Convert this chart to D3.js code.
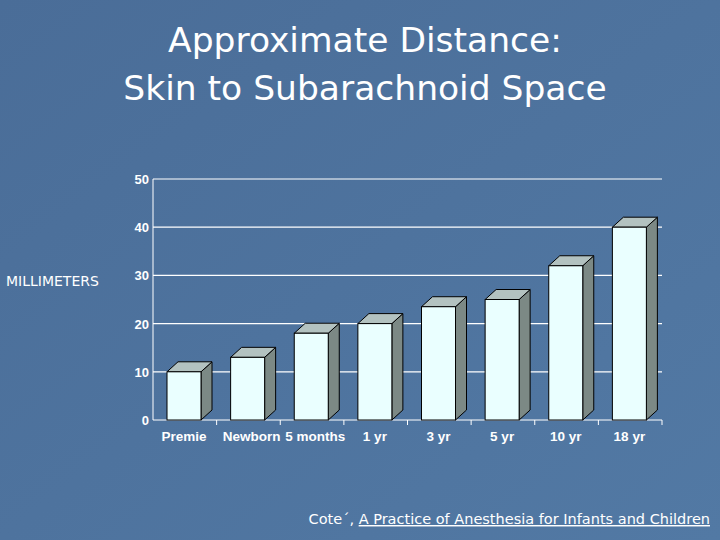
<!DOCTYPE html>
<html><head><meta charset="utf-8">
<script src="https://cdn.jsdelivr.net/npm/d3@7"></script>
<style>body{margin:0;background:#4d729d}svg{display:block}</style>
</head><body><svg id="c" width="720" height="540"></svg>
<script>
const categories=["Premie","Newborn","5 months","1 yr","3 yr","5 yr","10 yr","18 yr"];
const values=[10,13,18,20,23.5,25,32,40];
const yTicks=[0,10,20,30,40,50];
const svg=d3.select("#c");
const g0=svg.append("defs").append("linearGradient").attr("id","bg").attr("x1",0).attr("y1",0).attr("x2",1).attr("y2",1);
g0.append("stop").attr("offset",0).attr("stop-color","#4a6d98");
g0.append("stop").attr("offset",1).attr("stop-color","#5279a4");
svg.append("rect").attr("width",720).attr("height",540).attr("fill","url(#bg)");
const tf="'DejaVu Sans',sans-serif";
svg.append("text").attr("x",365).attr("y",52).attr("text-anchor","middle").attr("fill","#fff").attr("font-family",tf).attr("font-size",34.5).text("Approximate Distance:");
svg.append("text").attr("x",365).attr("y",100).attr("text-anchor","middle").attr("fill","#fff").attr("font-family",tf).attr("font-size",34.5).text("Skin to Subarachnoid Space");
const L=153,R=662,T=179,B=420;
const x=d3.scaleBand().domain(categories).range([L,R]);
const y=d3.scaleLinear().domain([0,50]).range([B,T]);
const g=svg.append("g");
g.selectAll(".grid").data(yTicks.slice(1)).join("line").attr("x1",L).attr("x2",R).attr("y1",d=>y(d)).attr("y2",d=>y(d)).attr("stroke","#fff").attr("stroke-width",1.2);
g.append("line").attr("x1",L).attr("x2",L).attr("y1",T).attr("y2",B).attr("stroke","#fff");
g.append("line").attr("x1",L).attr("x2",R).attr("y1",B).attr("y2",B).attr("stroke","#fff");
g.selectAll(".xt").data(categories.slice(1).concat([null])).join("line").attr("x1",(d,i)=>L+x.step()*(i+1)).attr("x2",(d,i)=>L+x.step()*(i+1)).attr("y1",B).attr("y2",B+5).attr("stroke","#fff");
g.selectAll(".yl").data(yTicks).join("text").attr("x",L-4).attr("y",d=>y(d)+5).attr("text-anchor","end").attr("fill","#fff").attr("font-family","'Liberation Sans',Arial,sans-serif").attr("font-weight","bold").attr("font-size",13).text(d=>d);
const bw=34,dx=11,dy=10;
const bars=g.selectAll(".b").data(values).join("g");
bars.append("polygon").attr("points",(d,i)=>{const x0=x(categories[i])+14,x1=x0+bw,yt=y(d);return `${x1},${yt} ${x1+dx},${yt-dy} ${x1+dx},${B-dy} ${x1},${B}`}).attr("fill","#7c8985").attr("stroke","#000").attr("stroke-width",1);
bars.append("polygon").attr("points",(d,i)=>{const x0=x(categories[i])+14,x1=x0+bw,yt=y(d);return `${x0},${yt} ${x0+dx},${yt-dy} ${x1+dx},${yt-dy} ${x1},${yt}`}).attr("fill","#b3c2c0").attr("stroke","#000").attr("stroke-width",1);
bars.append("rect").attr("x",(d,i)=>x(categories[i])+14).attr("y",d=>y(d)).attr("width",bw).attr("height",d=>B-y(d)).attr("fill","#eaffff").attr("stroke","#000").attr("stroke-width",1);
g.selectAll(".xl").data(categories).join("text").attr("x",(d,i)=>x(d)+14+bw/2+(i==1?4:i==2?4:0)).attr("y",441).attr("text-anchor","middle").attr("fill","#fff").attr("font-family","'Liberation Sans',Arial,sans-serif").attr("font-weight","bold").attr("font-size",13.5).text(d=>d);
svg.append("text").attr("x",6).attr("y",286).attr("fill","#fff").attr("font-family",tf).attr("font-size",14).text("MILLIMETERS");
const f=svg.append("text").attr("x",710).attr("y",524).attr("text-anchor","end").attr("fill","#fff").attr("font-family",tf).attr("font-size",14.5);
f.append("tspan").text("Cote´,  ");
f.append("tspan").attr("text-decoration","underline").text("A Practice of Anesthesia for Infants and Children");
</script></body></html>
